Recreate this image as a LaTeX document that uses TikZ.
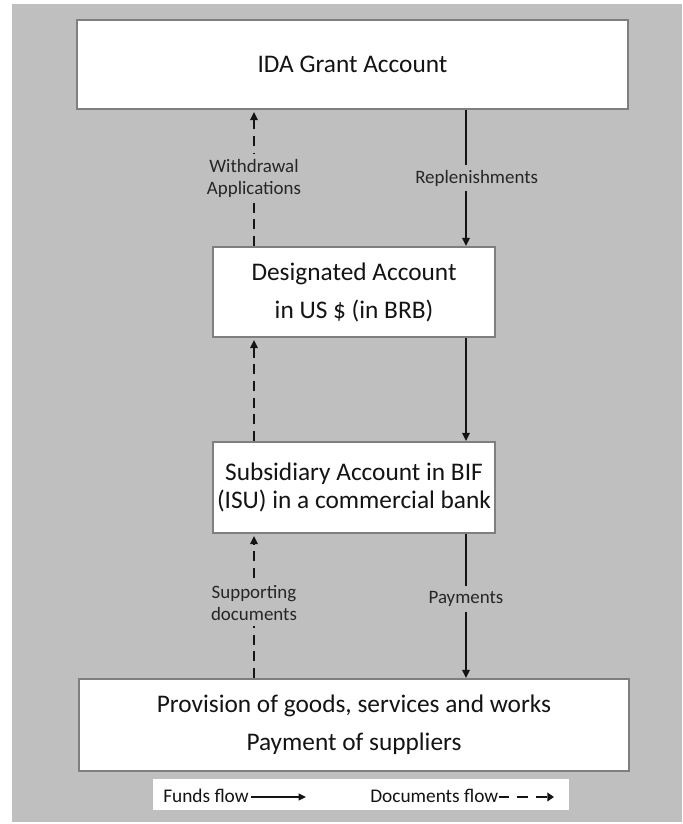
\documentclass[tikz,border=0pt]{standalone}
\usepackage{fontspec}
\setmainfont{Carlito}
\usetikzlibrary{arrows.meta,positioning}
\definecolor{FAPage}{HTML}{BFBFBF}
\definecolor{FAEdge}{HTML}{7F7F7F}
\definecolor{FAInk}{HTML}{141414}
\definecolor{FASoft}{HTML}{262626}
\tikzset{
  funds/.style={-{Triangle[length=6pt,width=5.5pt]},FAInk,line width=1.4pt},
  docs/.style={funds,dash pattern=on 7.5pt off 5pt,shorten >=1.5pt},
  keyfunds/.style={-{Triangle[length=5.5pt,width=5pt]},FAInk,line width=1.2pt},
  keydocs/.style={-{Triangle[length=5pt,width=6.5pt]},FAInk,line width=2pt,
                  dash pattern=on 8pt off 6pt},
  acct/.style={draw=FAEdge,line width=1.6pt,fill=white,text=FAInk,align=center,
               inner sep=0pt,font=\fontsize{19}{28.5}\selectfont},
  flowlabel/.style={fill=FAPage,text=FASoft,align=center,inner xsep=1pt,inner ysep=4pt,
                    font=\fontsize{14.2}{16.5}\selectfont},
  keybox/.style={fill=white,minimum width=312pt,minimum height=23.25pt,inner sep=0pt},
  keytext/.style={text=FAInk,font=\fontsize{14.5}{17}\selectfont,inner sep=0pt},
}

\begin{document}
\begin{tikzpicture}[x=0.75pt,y=-0.75pt]
    \useasboundingbox (0,0) rectangle (682,824);
    \fill[FAPage] (12,4) rectangle (682,822);

    % accounts
    \node[acct,minimum width=413.25pt,minimum height=66.75pt] (ida) at (352.5,64.5)
      {IDA Grant Account};
    \node[acct,minimum width=211.5pt,minimum height=67.5pt] (desig) at (354,292)
      {Designated Account\\in US \$ (in BRB)};
    \node[acct,minimum width=211.5pt,minimum height=68.25pt,
          font=\fontsize{19}{21}\selectfont] (subs) at (354,487.5)
      {Subsidiary Account in BIF\\(ISU) in a commercial bank};
    \node[acct,minimum width=412.5pt,minimum height=69pt] (prov) at (354,725)
      {Provision of goods, services and works\\Payment of suppliers};

    \coordinate (dx) at (254,0);
    \coordinate (fx) at (466,0);

    % documents go up, funds go down
    \draw[docs] (desig.north -| dx) -- node[flowlabel] {Withdrawal\\Applications} (ida.south -| dx);
    \draw[funds] (ida.south -| fx) -- node[flowlabel,xshift=8pt] {Replenishments} (desig.north -| fx);
    \draw[docs] (subs.north -| dx) -- (desig.south -| dx);
    \draw[funds] (desig.south -| fx) -- (subs.north -| fx);
    \draw[docs] (prov.north -| dx) -- node[flowlabel,pos=.52] {Supporting\\documents} (subs.south -| dx);
    \draw[funds] (subs.south -| fx) -- node[flowlabel,pos=.45] {Payments} (prov.north -| fx);

    % legend
    \node[keybox] (key) at (361,794.5) {};
    \node[keytext,anchor=west] (fundskey) at (163,796) {Funds flow};
    \coordinate (fundsend) at (306,797);
    \draw[keyfunds] (fundskey.east |- fundsend) ++(1.5pt,0) -- (fundsend);
    \node[keytext,anchor=west] (docskey) at (370,796) {Documents flow};
    \coordinate (docsend) at (554,797);
    \draw[keydocs] (docskey.east |- docsend) -- (docsend);
  \end{tikzpicture}
\end{document}
